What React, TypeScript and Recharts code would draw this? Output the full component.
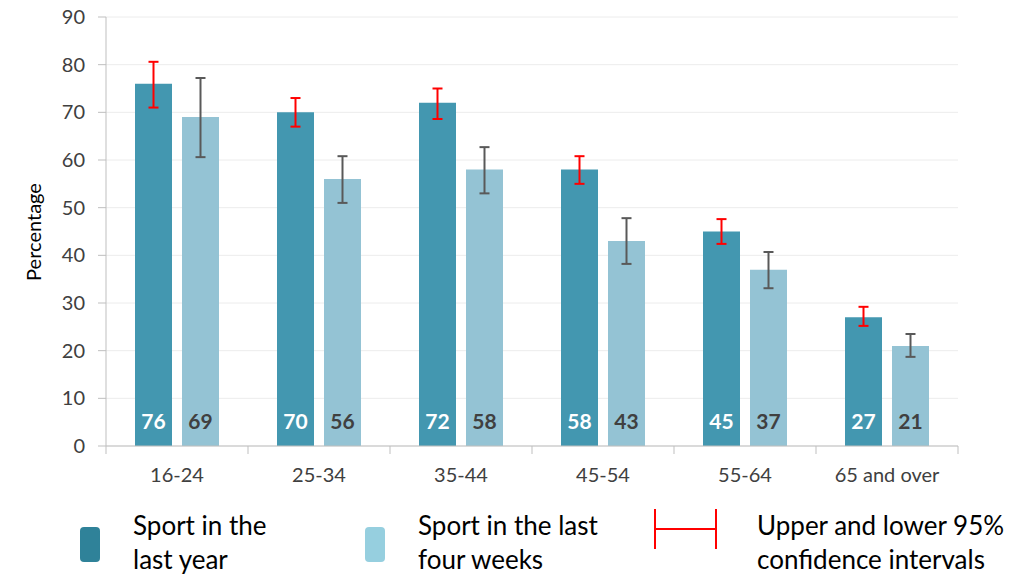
import React from "react"
import { Bar, BarChart, CartesianGrid, ErrorBar, LabelList, XAxis, YAxis } from "recharts"

const categories = ["16-24", "25-34", "35-44", "45-54", "55-64", "65 and over"]
const lastYear = [76, 70, 72, 58, 45, 27]
const lastYearLow = [71, 67, 68.6, 55, 42.4, 25.2]
const lastYearHigh = [80.6, 73, 75, 60.8, 47.6, 29.2]
const fourWeeks = [69, 56, 58, 43, 37, 21]
const fourWeeksLow = [60.6, 51, 53, 38.2, 33.1, 18.7]
const fourWeeksHigh = [77.2, 60.8, 62.7, 47.8, 40.7, 23.5]
const yTicks = [0, 10, 20, 30, 40, 50, 60, 70, 80, 90]

const data = categories.map((name, i) => ({
  name,
  year: lastYear[i],
  yearErr: [lastYear[i] - lastYearLow[i], lastYearHigh[i] - lastYear[i]],
  weeks: fourWeeks[i],
  weeksErr: [fourWeeks[i] - fourWeeksLow[i], fourWeeksHigh[i] - fourWeeks[i]],
}))

const FONT = "Lato, 'Open Sans', sans-serif"
const DARK = "#4397b0"
const LIGHT = "#94c3d4"
const TEXT = "#404040"
const AXIS = "#bfbfbf"

const XTick = (props: any) => {
  const { x, y, payload, index } = props
  const half = 71
  return (
    <g>
      <line x1={x - half} y1={y - 8} x2={x - half} y2={y} stroke={AXIS} />
      {index === categories.length - 1 && <line x1={x + half} y1={y - 8} x2={x + half} y2={y} stroke={AXIS} />}
      <text x={x} y={y + 28} textAnchor="middle" fontSize={20} fill={TEXT} fontFamily={FONT}>
        {payload.value}
      </text>
    </g>
  )
}

const YLabel = () => (
  <text x={33} y={232} transform="rotate(-90 33 232)" textAnchor="middle" dominantBaseline="central" fontSize={20} fill="#000" fontFamily={FONT}>
    Percentage
  </text>
)

const App: React.FC = () => {
  return (
    <div style={{ position: "absolute", left: 0, top: 0, width: 1027, height: 576, background: "#fff", fontFamily: FONT }}>
      <BarChart
        width={1027}
        height={490}
        data={data}
        margin={{ top: 17, right: 69, left: 0, bottom: 14 }}
        barSize={37}
        barGap={10}
      >
        <CartesianGrid vertical={false} stroke="#ececec" />
        <XAxis dataKey="name" axisLine={{ stroke: AXIS }} tickLine={false} tick={<XTick />} height={30} interval={0} />
        <YAxis
          domain={[0, 90]}
          ticks={yTicks}
          width={106}
          axisLine={{ stroke: AXIS }}
          tickLine={{ stroke: AXIS }}
          tickSize={8}
          tickMargin={13}
          tick={{ fill: TEXT, fontSize: 20, fontFamily: FONT }}
          label={<YLabel />}
        />
        <Bar dataKey="year" fill={DARK} isAnimationActive={false}>
          <ErrorBar dataKey="yearErr" width={5} stroke="#ff0000" strokeWidth={2} direction="y" />
          <LabelList dataKey="year" position="insideBottom" offset={17} fill="#ffffff" fontSize={21} fontWeight="bold" fontFamily={FONT} />
        </Bar>
        <Bar dataKey="weeks" fill={LIGHT} isAnimationActive={false}>
          <ErrorBar dataKey="weeksErr" width={5} stroke="#595959" strokeWidth={2} direction="y" />
          <LabelList dataKey="weeks" position="insideBottom" offset={17} fill={TEXT} fontSize={21} fontWeight="bold" fontFamily={FONT} />
        </Bar>
      </BarChart>
      <div style={{ position: "absolute", left: 80, top: 527, width: 20, height: 35, background: "#2f8299", borderRadius: 4 }} />
      <div style={{ position: "absolute", left: 133, top: 508, fontSize: 26, lineHeight: "34px", color: "#000" }}>
        Sport in the<br />last year
      </div>
      <div style={{ position: "absolute", left: 365, top: 527, width: 20, height: 35, background: "#96cfdf", borderRadius: 4 }} />
      <div style={{ position: "absolute", left: 418, top: 508, fontSize: 26, lineHeight: "34px", color: "#000" }}>
        Sport in the last<br />four weeks
      </div>
      <svg style={{ position: "absolute", left: 650, top: 505 }} width={72} height={48}>
        <line x1={5} y1={4} x2={5} y2={44} stroke="#ff0000" strokeWidth={2} />
        <line x1={66} y1={4} x2={66} y2={44} stroke="#ff0000" strokeWidth={2} />
        <line x1={5} y1={24} x2={66} y2={24} stroke="#ff0000" strokeWidth={2} />
      </svg>
      <div style={{ position: "absolute", left: 757, top: 508, fontSize: 26, lineHeight: "34px", color: "#000" }}>
        Upper and lower 95%<br />confidence intervals
      </div>
    </div>
  )
}

export default App
